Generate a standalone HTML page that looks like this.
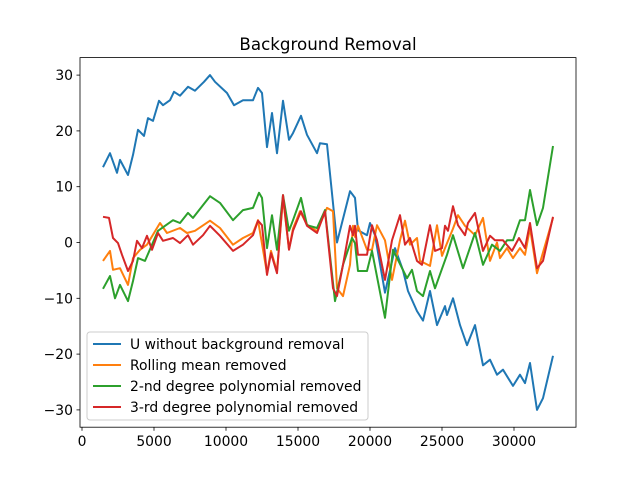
<!DOCTYPE html>
<html><head><meta charset="utf-8"><style>
body{margin:0;background:#fff}
svg{font-family:"DejaVu Sans","Liberation Sans",sans-serif}
</style></head><body>
<svg id="chart" width="640" height="480" viewBox="0 0 640 480" xmlns="http://www.w3.org/2000/svg">
<rect width="640" height="480" fill="#fff"/>
<text x="328" y="50" font-size="16.7" text-anchor="middle">Background Removal</text>
<g id="plot"></g>
<g id="axes"></g>
<rect x="80" y="57.6" width="496" height="369.6" fill="none" stroke="#000" stroke-width="0.8"/>
<g>
<rect x="87" y="332" width="281" height="88" rx="3" fill="#fff" fill-opacity="0.8" stroke="#ccc" stroke-width="1"/>
<g><line x1="93" y1="344" x2="121" y2="344" stroke="#1f77b4" stroke-width="2"/><text x="130" y="349" font-size="13.9">U without background removal</text></g>
<g><line x1="93" y1="365" x2="121" y2="365" stroke="#ff7f0e" stroke-width="2"/><text x="130" y="370" font-size="13.9">Rolling mean removed</text></g>
<g><line x1="93" y1="386" x2="121" y2="386" stroke="#2ca02c" stroke-width="2"/><text x="130" y="391" font-size="13.9">2-nd degree polynomial removed</text></g>
<g><line x1="93" y1="407" x2="121" y2="407" stroke="#d62728" stroke-width="2"/><text x="130" y="412" font-size="13.9">3-rd degree polynomial removed</text></g>
</g>
</svg>
<script>
const xTicks=[0,5000,10000,15000,20000,25000,30000];
const yTicks=[30,20,10,0,-10,-20,-30];
const uX=[1458,1944,2431,2639,3194,3542,3889,4306,4583,4931,5347,5625,6111,6389,6806,7361,7847,8472,8889,9236,10069,10556,11181,11875,12222,12500,12847,13194,13542,13958,14375,14653,15208,15625,16319,16528,17014,17708,18611,18958,19167,19792,20000,20347,21042,21736,22292,22639,23264,23681,24167,24653,25208,25347,25764,26250,26736,27292,27847,28333,28819,29236,29931,30417,30764,31111,31597,32014,32708];
const uY=[13.5,16,12.5,14.8,12.1,15.7,20.2,19.1,22.3,21.8,25.4,24.6,25.5,27,26.3,27.9,27.2,28.8,30,28.8,26.8,24.6,25.5,25.5,27.7,26.8,17.1,23.2,16,25.4,18.4,19.6,22.7,19.3,16,17.8,17.6,0,9.2,8,2.2,1.3,3.5,1.3,-9,-1,-5,-8.7,-12.3,-14,-8.7,-14.8,-11.4,-13,-10,-14.8,-18.4,-14.8,-22,-21,-23.7,-22.8,-25.7,-23.7,-25.2,-21.6,-30,-27.9,-20.3];
const rollX=[1458,1944,2153,2639,3194,3542,4028,4514,5417,5903,6806,7292,7847,8889,9583,10486,11181,11875,12222,12847,13125,13542,13958,14375,14653,15139,15625,16319,17014,17431,17708,18125,18611,18819,18958,19167,19792,20139,20486,21042,21528,22083,22431,22778,23264,23472,24167,24653,25000,25208,25764,26111,26597,27292,27847,28333,28819,29028,29514,29931,30417,30764,31111,31597,32708];
const rollY=[-3.3,-1.5,-4.9,-4.6,-7.6,-2.8,-1.3,-0.4,3.5,1.7,2.6,1.7,2.1,3.9,2.6,-0.4,0.8,1.7,4,-5.5,-1.5,-5.2,8,-1.2,2.5,5.6,3.2,2,6.2,5.6,-8.2,-9.6,-4,3,1,3,-1.3,-1.3,3.1,0.4,-6.7,0.4,3.9,-0.4,0.8,-3.3,-4.2,3.1,-2.4,-1,2.5,4.9,3,1.3,4.4,-3.3,0,-2.8,-1,-2.8,-1,-2.2,2.6,-5.5,4.4];
const p2X=[1458,1944,2292,2639,3194,3542,3889,4375,4861,5278,6319,6806,7361,7708,8403,8889,9583,10486,11181,11875,12292,12500,12847,13194,13542,13958,14375,14653,15208,15625,16319,16875,17569,18125,18750,18958,19167,19792,20139,21042,21597,22569,22917,23264,23681,24167,24514,25347,25764,26458,27292,27847,28472,29028,29514,29931,30417,30764,31111,31597,32014,32708];
const p2Y=[-8.3,-6,-10,-7.6,-10.5,-6.9,-2.8,-3.3,-0.4,2.1,4,3.5,5.3,4.4,6.7,8.3,7.1,4,5.8,6.2,8.9,8,-1,4.9,-1.3,8.5,2.1,4,8,3.1,2.6,5.8,-10.5,-4,0.8,-0.1,-5.1,-5.1,-1.5,-13.5,-1.3,-6.4,-4.9,-8.7,-9.6,-5.1,-8.2,-2.2,1.3,-4.6,1.7,-4,-0.4,-1.5,0.4,0.4,4,4,9.4,3.1,6.2,17.3];
const p3X=[1458,1875,2153,2500,2778,3194,3542,3819,4167,4514,4861,5278,5625,6319,6806,7361,7708,8403,8889,9583,10486,11181,11875,12222,12500,12847,13125,13542,13958,14375,14653,15208,15625,16319,16875,17431,17708,18125,18611,18819,18958,19167,19792,20139,20486,21042,21528,22083,22431,22778,23264,23611,24167,24514,25000,25208,25417,25764,26111,26597,26806,27292,27847,28333,28681,29236,29861,30347,30764,31111,31597,32014,32708];
const p3Y=[4.6,4.4,0.8,-0.1,-2.2,-5.1,-3.3,0.3,-1,1.2,-1.3,1.7,0.3,0.8,-0.1,1.3,-0.4,1.3,3,1.2,-1.5,-0.4,1.3,3.9,3.1,-5.8,-1.9,-5.5,8.5,-1.3,2.1,5.6,3,1.7,5.6,-8.2,-9.6,-4,3,1.3,3,-2.2,-2.2,3.1,0.4,-6.7,0.4,4.9,-0.4,0.8,-3.3,-4,3.1,-1.5,-1,3,2.1,6.5,3.1,1.3,3.5,5.3,-1.5,1.2,0.4,0.4,-1.5,0.8,-1,3.5,-4.6,-3.3,4.6];

const NS='http://www.w3.org/2000/svg';
const sx=v=>82+v*0.0144;
const sy=v=>242.5-v*5.58;
const plot=document.getElementById('plot');
const axes=document.getElementById('axes');
function addSeries(xs,ys,color,name){
  const p=document.createElementNS(NS,'polyline');
  p.setAttribute('points',xs.map((x,i)=>sx(x).toFixed(1)+','+sy(ys[i]).toFixed(1)).join(' '));
  p.setAttribute('fill','none');p.setAttribute('stroke',color);p.setAttribute('stroke-width','2');
  p.setAttribute('stroke-linejoin','round');
  
  
  plot.appendChild(p);
}
addSeries(uX,uY,'#1f77b4','u-line');
addSeries(rollX,rollY,'#ff7f0e','rolling-mean-line');
addSeries(p2X,p2Y,'#2ca02c','poly2-line');
addSeries(p3X,p3Y,'#d62728','poly3-line');
xTicks.forEach(t=>{
  const x=sx(t);
  const l=document.createElementNS(NS,'line');
  l.setAttribute('x1',x);l.setAttribute('x2',x);l.setAttribute('y1',427.2);l.setAttribute('y2',430.7);l.setAttribute('stroke','#000');l.setAttribute('stroke-width','0.8');
  
  
  axes.appendChild(l);
  const tx=document.createElementNS(NS,'text');
  tx.setAttribute('x',x);tx.setAttribute('y',446);tx.setAttribute('font-size','13.9');tx.setAttribute('text-anchor','middle');
  tx.textContent=t;
  
  
  axes.appendChild(tx);
});
yTicks.forEach(t=>{
  const y=sy(t);
  const l=document.createElementNS(NS,'line');
  l.setAttribute('x1',76.5);l.setAttribute('x2',80);l.setAttribute('y1',y);l.setAttribute('y2',y);l.setAttribute('stroke','#000');l.setAttribute('stroke-width','0.8');
  
  
  axes.appendChild(l);
  const tx=document.createElementNS(NS,'text');
  tx.setAttribute('x',73);tx.setAttribute('y',y+5);tx.setAttribute('font-size','13.9');tx.setAttribute('text-anchor','end');
  tx.textContent=t<0?'\u2212'+(-t):String(t);
  
  
  axes.appendChild(tx);
});
</script>
</body></html>
